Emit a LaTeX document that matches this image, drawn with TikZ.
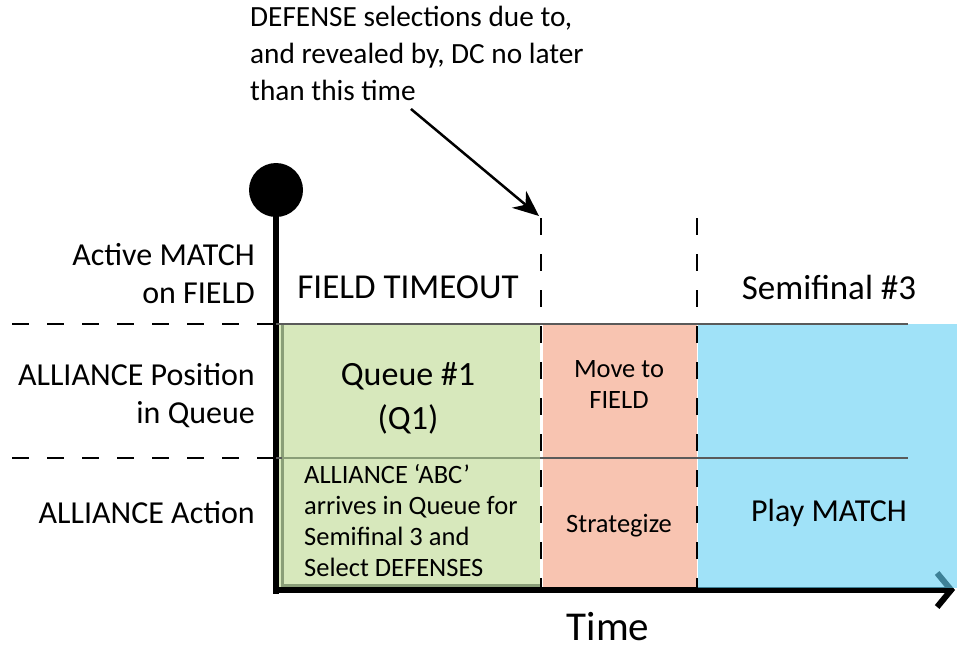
\documentclass[tikz,border=0pt]{standalone}
\usepackage{fontspec}
\setmainfont{Carlito}
\usetikzlibrary{arrows.meta, positioning, calc}
\definecolor{queuegreen}{HTML}{D7E8BC}
\definecolor{queueedge}{HTML}{8A9E78}
\definecolor{moveorange}{HTML}{F8C4B1}
\definecolor{playblue}{HTML}{65D1F4}
\definecolor{rowline}{HTML}{5A5A5A}

\begin{document}
\begin{tikzpicture}[x=1pt, y=-1pt,
    rowlabel/.style={anchor=east, align=right, inner sep=0pt, font=\fontsize{32}{38}\selectfont},
    phase/.style={inner sep=0pt, font=\fontsize{35}{40}\selectfont},
    cell/.style={inner sep=0pt, align=center, font=\fontsize{26.5}{31}\selectfont},
    rowdash/.style={line width=1.3pt, dash pattern=on 17pt off 18pt},
    timedash/.style={line width=2.6pt, dash pattern=on 17pt off 19pt}]
  \useasboundingbox (0,0) rectangle (957,645);

  % phase blocks
  \fill[queuegreen] (278,324) rectangle (540,588);
  \draw[queueedge, line width=3pt] (282,324) -- (282,585) -- (540,585);
  \fill[moveorange] (543,324) rectangle (697,590);
  \draw[line width=2.5pt] (541,324) -- (697,324);

  % time axes
  \draw[line width=6pt] (276,190) -- (276,594);
  \fill (276,190) circle (27);
  \draw[line width=6pt, -{Straight Barb[length=14pt, width=34pt, line width=6pt]}] (273,590) -- (955,590);

  \fill[playblue, fill opacity=0.62] (698,324) rectangle (957,588);

  % row dividers
  \draw[rowline, line width=1.6pt] (276,324) -- (908,324);
  \draw[rowline, line width=1.6pt] (276,458) -- (908,458);
  \draw[queueedge, line width=1.6pt] (282,458) -- (540,458);
  \draw[rowdash] (12,324) -- (275,324);
  \draw[rowdash] (12,458) -- (275,458);

  % time markers
  \draw[timedash] (541,218) -- (541,590);
  \draw[timedash] (697,218) -- (697,590);

  % row labels
  \node[rowlabel] (active) at (255,274) {Active MATCH\\on FIELD};
  \node[rowlabel] (position) at (255,396) {ALLIANCE Position\\in Queue};
  \node[rowlabel] (action) at (255,513) {ALLIANCE Action};

  % phases
  \node[phase] (timeout) at (408,287) {FIELD TIMEOUT};
  \node[phase] (semi) at (829,287) {Semifinal \#3};
  \node[cell, font=\fontsize{34}{44}\selectfont] (queue) at (408,398) {Queue \#1\\(Q1)};
  \node[cell] (move) at (619,384) {Move to\\FIELD};
  \node[cell] (strategize) at (619,526) {Strategize};
  \node[cell, font=\fontsize{32}{38}\selectfont] (play) at (829,513) {Play MATCH};
  \node[cell, align=left, anchor=west] (arrives) at (304,521) {ALLIANCE ‘ABC’\\arrives in Queue for\\Semifinal 3 and\\Select DEFENSES};

  \node[font=\fontsize{41}{46}\selectfont, inner sep=0pt, text depth=0pt, anchor=base] (time) at (608,640) {Time};

  % note on the deadline
  \node[align=left, anchor=north west, inner sep=0pt, font=\fontsize{29.3}{37}\selectfont] (note) at (250,6) {DEFENSE selections due to,\\and revealed by, DC no later\\than this time};
  \coordinate (due) at (539,216);
  \draw[line width=2.5pt, -{Stealth[length=26pt, width=22pt]}] ([xshift=-6pt, yshift=-8pt]note.south) -- (due);
\end{tikzpicture}
\end{document}
